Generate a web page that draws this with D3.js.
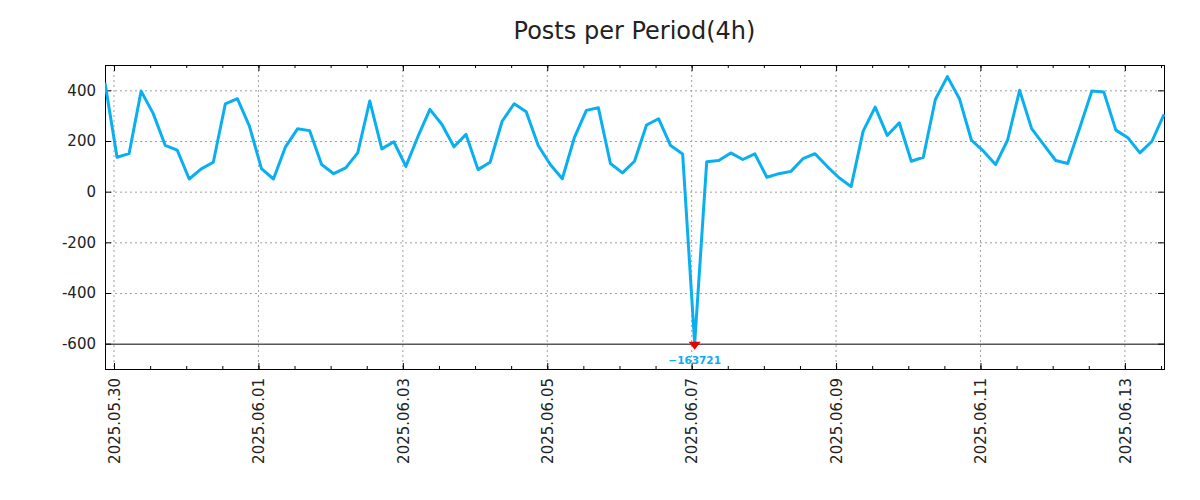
<!DOCTYPE html>
<html>
<head>
<meta charset="utf-8">
<script src="https://cdn.jsdelivr.net/npm/d3@7"></script>
<style>
  body { margin: 0; background: #fff; }
  svg text { font-family: "DejaVu Sans", sans-serif; }
</style>
</head>
<body>
<svg id="chart" width="1200" height="500"></svg>
<script>
const svg = d3.select("#chart"),
      width = +svg.attr("width"),
      height = +svg.attr("height");

// posts per 4h period, first period starts 2025-05-29 21:00
const periodStart = new Date(2025, 4, 29, 21, 0);
const periodHours = 4;
const posts = [
  430, 136, 150, 397, 309, 183, 164, 50, 90, 116,
  347, 367, 259, 91, 50, 177, 248, 241, 107, 71,
  94, 153, 358, 169, 197, 100, 217, 325, 265, 177,
  226, 87, 116, 278, 347, 315, 182, 107, 51, 213,
  321, 331, 111, 74, 120, 263, 288, 182, 149, -163721,
  118, 123, 153, 127, 149, 57, 71, 80, 130, 150,
  100, 55, 20, 239, 334, 222, 272, 120, 136, 364,
  454, 367, 203, 160, 107, 203, 400, 249, 186, 123,
  111, 252, 397, 393, 243, 213, 153, 199, 305
];
const times = posts.map((d, i) => d3.timeHour.offset(periodStart, i * periodHours));

const xTickLabels = ["2025.05.30", "2025.06.01", "2025.06.03", "2025.06.05",
                     "2025.06.07", "2025.06.09", "2025.06.11", "2025.06.13"];
const yTicks = [400, 200, 0, -200, -400, -600];
const yFloor = -600;

const parseDay = d3.timeParse("%Y.%m.%d");
const fmtDay = d3.timeFormat("%Y.%m.%d");

const m = {left: 105, right: 1164, top: 65, bottom: 369};

const xScale = d3.scaleTime()
                 .domain([times[0], times[times.length - 1]])
                 .range([m.left, m.right]);
const yScale = d3.scaleLinear().domain([-700, 500]).range([m.bottom, m.top]);

// title
svg.append("text")
   .attr("x", (m.left + m.right) / 2)
   .attr("y", 39)
   .attr("text-anchor", "middle")
   .style("font-size", "24px")
   .style("fill", "#222")
   .text("Posts per Period(4h)");

// grid
const xMajor = xTickLabels.map(parseDay);
svg.append("g").selectAll("line")
   .data(xMajor)
   .join("line")
   .attr("x1", d => xScale(d)).attr("x2", d => xScale(d))
   .attr("y1", m.top).attr("y2", m.bottom)
   .style("stroke", "#a0a0a0")
   .style("stroke-dasharray", "2,3");

svg.append("g").selectAll("line")
   .data(yTicks.filter(d => d !== yFloor))
   .join("line")
   .attr("x1", m.left).attr("x2", m.right)
   .attr("y1", d => yScale(d) + 0.5).attr("y2", d => yScale(d) + 0.5)
   .style("stroke", "#a0a0a0")
   .style("stroke-dasharray", "2,3");

// floor line
svg.append("line")
   .attr("x1", m.left).attr("x2", m.right)
   .attr("y1", yScale(yFloor) + 0.5).attr("y2", yScale(yFloor) + 0.5)
   .style("stroke", "#000")
   .style("stroke-width", 1);

// axes (ticks drawn inward like gnuplot)
const yAxisL = d3.axisLeft(yScale).tickValues(yTicks).tickSize(-6).tickPadding(9)
                 .tickFormat(d => String(d));
const yAxisR = d3.axisRight(yScale).tickValues(yTicks).tickSize(-6).tickFormat("");
const xMinor = d3.timeHour.every(12).range(xScale.domain()[0], xScale.domain()[1]);

svg.append("g").attr("class", "yl")
   .attr("transform", `translate(${m.left},0)`)
   .call(yAxisL);
svg.append("g").attr("class", "yr")
   .attr("transform", `translate(${m.right},0)`)
   .call(yAxisR);

svg.append("g").attr("class", "xminb")
   .attr("transform", `translate(0,${m.bottom})`)
   .call(d3.axisBottom(xScale).tickValues(xMinor).tickSize(-3).tickFormat(""));
svg.append("g").attr("class", "xmint")
   .attr("transform", `translate(0,${m.top})`)
   .call(d3.axisTop(xScale).tickValues(xMinor).tickSize(-3).tickFormat(""));

const xAxisB = svg.append("g").attr("class", "xb")
   .attr("transform", `translate(0,${m.bottom})`)
   .call(d3.axisBottom(xScale).tickValues(xMajor).tickSize(-6).tickFormat(fmtDay));
svg.append("g").attr("class", "xt")
   .attr("transform", `translate(0,${m.top})`)
   .call(d3.axisTop(xScale).tickValues(xMajor).tickSize(-6).tickFormat(""));

xAxisB.selectAll("text")
   .attr("transform", "rotate(-90)")
   .attr("x", -9)
   .attr("y", 0)
   .attr("dy", "0.35em")
   .style("text-anchor", "end");

svg.selectAll(".domain").remove();
svg.selectAll(".tick line").style("stroke", "#000");
svg.selectAll(".tick text")
   .style("font-family", "DejaVu Sans, sans-serif")
   .style("font-size", "15px")
   .style("fill", "#222");

// border
svg.append("rect")
   .attr("x", m.left + 0.5).attr("y", m.top + 0.5)
   .attr("width", m.right - m.left).attr("height", m.bottom - m.top)
   .style("fill", "none")
   .style("stroke", "#000");

// line, clamped at the floor
svg.append("defs").append("clipPath").attr("id", "plotclip")
   .append("rect")
   .attr("x", m.left).attr("y", m.top)
   .attr("width", m.right - m.left + 2).attr("height", m.bottom - m.top);

const line = d3.line()
               .x((d, i) => xScale(times[i]))
               .y(d => yScale(Math.max(d, yFloor)));

svg.append("path")
   .datum(posts)
   .attr("clip-path", "url(#plotclip)")
   .attr("d", line)
   .style("fill", "none")
   .style("stroke", "#0aaff0")
   .style("stroke-width", 3)
   .style("stroke-linejoin", "round");

// minimum marker
const minIdx = d3.minIndex(posts);
const mx = xScale(times[minIdx]), my = yScale(yFloor);
svg.append("path")
   .attr("d", `M${mx - 6},${my - 2} L${mx + 6},${my - 2} L${mx},${my + 6} Z`)
   .style("fill", "#e80000");

svg.append("text")
   .attr("x", mx)
   .attr("y", my + 20)
   .attr("text-anchor", "middle")
   .style("font-size", "10.5px")
   .style("font-weight", "bold")
   .style("fill", "#0aaff0")
   .text("\u2212" + Math.abs(posts[minIdx]));
</script>
</body>
</html>
